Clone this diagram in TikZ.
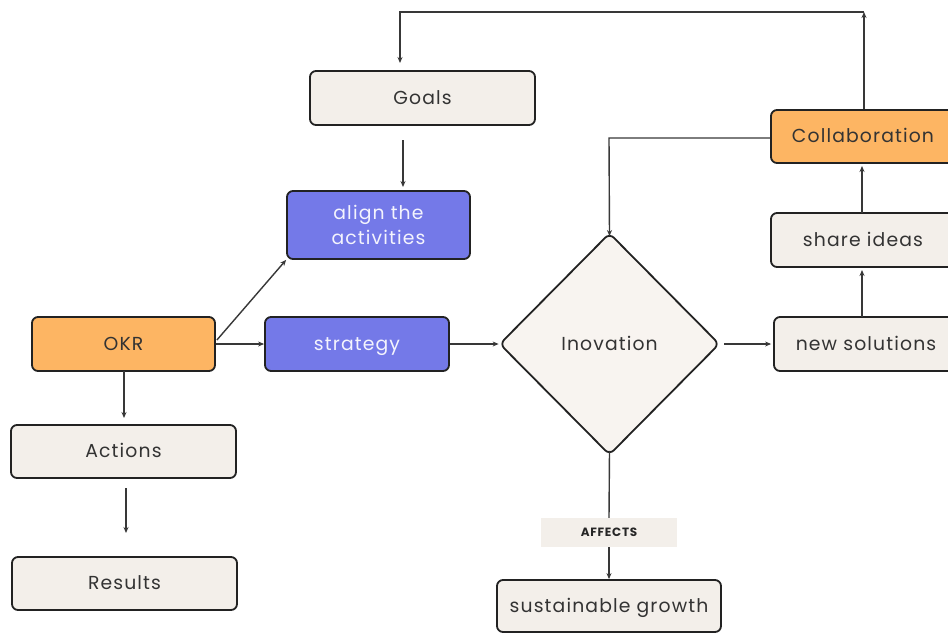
\documentclass[tikz,border=0pt]{standalone}
\usepackage{fontspec}
\setmainfont[LetterSpace=6]{Poppins}
\newfontfamily\boldfont[LetterSpace=6]{Poppins Bold}
\usetikzlibrary{shapes.geometric,arrows.meta}
\definecolor{okrorange}{HTML}{FDB563}
\definecolor{stratblue}{HTML}{7479E8}
\definecolor{beige}{HTML}{F3EFEA}
\definecolor{diamondfill}{HTML}{F8F4F0}
\definecolor{edge}{HTML}{222222}
\definecolor{txt}{HTML}{333333}
\tikzset{
  box/.style={draw=edge, line width=1.8pt, rounded corners=6pt, fill=beige,
    text=txt, font=\fontsize{18.8}{22}\selectfont, inner sep=0pt, align=center},
  oneline/.style={text height=16pt, text depth=4pt},
  orangebox/.style={box, fill=okrorange},
  bluebox/.style={box, fill=stratblue, text=white!92!stratblue},
  conn/.style={draw=edge!90, line width=1.4pt, -{Stealth[length=6pt,width=5pt]}},
  plain/.style={draw=edge!90, line width=1.4pt},
}
\begin{document}
\begin{tikzpicture}[x=1pt,y=-1pt]
\clip (0,0) rectangle (948,633);
\fill[white] (0,0) rectangle (948,633);

\node[box, oneline, minimum width=225pt, minimum height=54pt] (goals) at (422.5,98) {Goals};
\node[bluebox, minimum width=183pt, minimum height=68pt] (align) at (378.5,225) {align the\\[3pt]activities};
\node[orangebox, oneline, minimum width=183pt, minimum height=54pt] (okr) at (123.5,344) {OKR};
\node[bluebox, oneline, minimum width=184pt, minimum height=54pt] (strategy) at (357,344) {strategy};
\node[box, oneline, minimum width=225pt, minimum height=53pt] (actions) at (123.5,451.5) {Actions};
\node[box, oneline, minimum width=225pt, minimum height=53pt] (results) at (124.5,583.5) {Results};
\node[draw=edge, line width=1.8pt, rounded corners=6pt, fill=diamondfill, diamond, aspect=1,
  minimum width=220pt, minimum height=222pt, inner sep=0pt, text=txt, oneline,
  font=\fontsize{18.8}{22}\selectfont] (inov) at (609.5,344) {Inovation};
\node[box, oneline, minimum width=190pt, minimum height=54pt, text width=186pt] (newsol) at (869,344) {new solutions\hspace*{6pt}};
\node[box, oneline, minimum width=190pt, minimum height=54pt, text width=186pt] (share) at (866,240) {share ideas\hspace*{6pt}};
\node[orangebox, oneline, minimum width=190pt, minimum height=53pt, text width=186pt] (collab) at (866,136.5) {Collaboration\hspace*{6pt}};
\node[fill=beige, minimum width=136pt, minimum height=29pt, inner sep=0pt, text=black!85,
  font=\boldfont\fontsize{12}{14}\selectfont] (affects) at (609,532.5) {AFFECTS};
\node[box, oneline, minimum width=224pt, minimum height=52pt] (growth) at (609,606) {sustainable growth};

\coordinate (topR) at (864,12);
\coordinate (topL) at (400,12);
\coordinate (goalsIn) at (400,63);
\coordinate (collabL) at (609,138);

% connectors
\draw[conn] (collab.north -| topR) -- (topR);
\draw[conn] (topR) -- (topL) -- (goalsIn);
\draw[conn] (403,140) -- (403,187);
\draw[conn] (okr.east) ++(1,-4) -- (align.south west);
\draw[conn] (okr.east) -- (strategy.west);
\draw[conn] (124,371) -- (124,418);
\draw[conn] (126,488) -- (126,533);
\draw[conn] (strategy.east) -- (inov.west);
\draw[conn] ([xshift=4pt]inov.east) -- ([xshift=-2pt]newsol.west);
\draw[conn] (862,317) -- (862,270);
\draw[conn] (862,213) -- (862,166);
\draw[conn] (collab.west |- collabL) -- (collabL) -- ([yshift=-4pt]inov.north);
\draw[plain] ([yshift=5pt]inov.south) -- (affects.north);
\draw[conn] (affects.south) -- (growth.north);
\end{tikzpicture}
\end{document}
